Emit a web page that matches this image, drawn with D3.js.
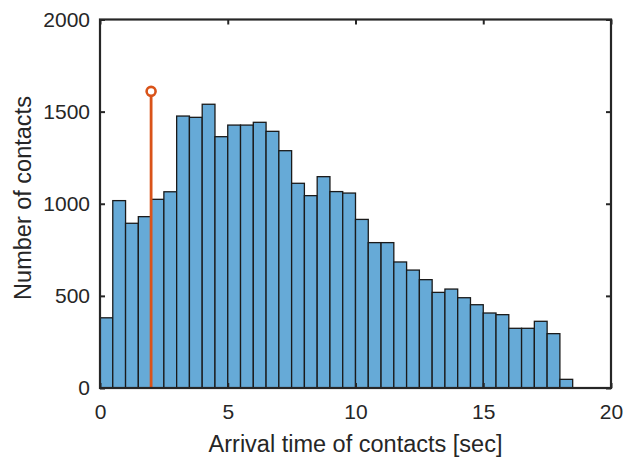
<!DOCTYPE html>
<html><head><meta charset="utf-8">
<script src="https://cdn.jsdelivr.net/npm/d3@7"></script>
<style>body{margin:0;background:#fff;} text{font-family:Arial,"Liberation Sans",sans-serif;}</style>
</head><body>
<svg id="c" width="625" height="458"></svg>
<script>
const binStart = 0, binWidth = 0.5;
const counts = [381,1017,894,930,1024,1065,1476,1469,1540,1364,1427,1427,1442,1393,1288,1111,1044,1147,1066,1058,915,789,789,684,640,588,519,537,490,452,407,398,324,324,362,295,47];
const stemX = [2];
const stemY = [1610];
const xTicks = [0,5,10,15,20];
const yTicks = [0,500,1000,1500,2000];

const svg = d3.select("#c");
const L=100, R=611, T=19.5, B=388;
const x = d3.scaleLinear().domain([0,20]).range([L,R]);
const y = d3.scaleLinear().domain([0,2000]).range([B,T]);
const ink = "#262626";

svg.append("g").selectAll("rect").data(counts).join("rect")
  .attr("x",(d,i)=>x(binStart+i*binWidth))
  .attr("width",(d,i)=>x(binStart+(i+1)*binWidth)-x(binStart+i*binWidth))
  .attr("y",d=>y(d)).attr("height",d=>y(0)-y(d))
  .attr("fill","rgb(102,170,215)").attr("stroke","#1a1a1a").attr("stroke-width",1.3);

stemX.forEach((sx,i)=>{
  svg.append("line").attr("x1",x(sx)).attr("x2",x(sx)).attr("y1",y(0)).attr("y2",y(stemY[i]))
    .attr("stroke","#D95319").attr("stroke-width",2.8);
  svg.append("circle").attr("cx",x(sx)).attr("cy",y(stemY[i])).attr("r",4.5)
    .attr("fill","#fff").attr("stroke","#D95319").attr("stroke-width",2.6);
});

const fmt = d3.format("d");
const gx = svg.append("g").attr("transform",`translate(0,${B})`)
  .call(d3.axisBottom(x).tickValues(xTicks).tickSize(-5).tickPadding(16).tickFormat(fmt));
const gxt = svg.append("g").attr("transform",`translate(0,${T})`)
  .call(d3.axisTop(x).tickValues(xTicks).tickSize(-5).tickFormat(""));
const gy = svg.append("g").attr("transform",`translate(${L},0)`)
  .call(d3.axisLeft(y).tickValues(yTicks).tickSize(-5).tickPadding(10).tickFormat(fmt));
const gyr = svg.append("g").attr("transform",`translate(${R},0)`)
  .call(d3.axisRight(y).tickValues(yTicks).tickSize(-5).tickFormat(""));
[gx,gxt,gy,gyr].forEach(g=>{
  g.select(".domain").remove();
  g.selectAll("line").attr("stroke",ink).attr("stroke-width",2);
  g.selectAll("text").attr("fill",ink).style("font-size","21px");
});
svg.append("rect").attr("x",L).attr("y",T).attr("width",R-L).attr("height",B-T)
  .attr("fill","none").attr("stroke",ink).attr("stroke-width",2.2);

svg.append("text").attr("x",(L+R)/2).attr("y",451.5).attr("text-anchor","middle")
  .attr("fill",ink).style("font-size","23.5px").text("Arrival time of contacts [sec]");
svg.append("text").attr("transform",`translate(30.5,198) rotate(-90)`).attr("text-anchor","middle")
  .attr("fill",ink).style("font-size","23.5px").text("Number of contacts");
</script>
</body></html>
